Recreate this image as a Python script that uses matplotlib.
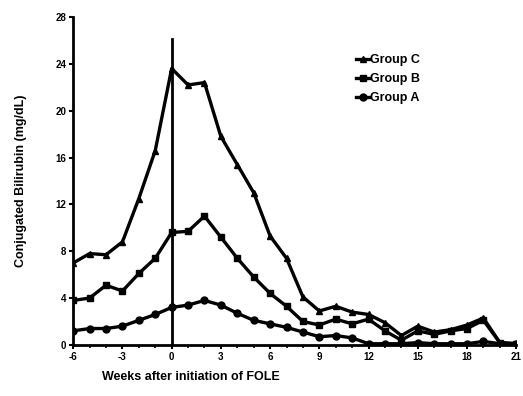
import numpy as np
import matplotlib
matplotlib.use("Agg")
import matplotlib.pyplot as plt
from matplotlib.ticker import MultipleLocator

plt.rcParams['font.family'] = ['Liberation Sans', 'DejaVu Sans']
plt.rcParams['font.weight'] = 'bold'
plt.rcParams['axes.unicode_minus'] = False

# weeks relative to start of FOLE
weeks = list(range(-6, 22))

group_c = [7.0, 7.8, 7.7, 8.8, 12.5, 16.6, 23.6, 22.2, 22.4, 17.8, 15.4, 13.0, 9.3, 7.4,
           4.1, 2.9, 3.3, 2.8, 2.6, 1.9, 0.8, 1.6, 1.1, 1.3, 1.7, 2.3, 0.2, 0.1]
group_b = [3.8, 4.0, 5.1, 4.6, 6.1, 7.4, 9.6, 9.7, 11.0, 9.2, 7.4, 5.8, 4.4, 3.3,
           2.0, 1.7, 2.2, 1.8, 2.2, 1.2, 0.4, 1.2, 0.9, 1.2, 1.4, 2.1, 0.2, 0.1]
group_a = [1.2, 1.4, 1.4, 1.6, 2.1, 2.6, 3.2, 3.4, 3.8, 3.4, 2.7, 2.1, 1.8, 1.5,
           1.1, 0.7, 0.8, 0.6, 0.1, 0.1, 0.1, 0.2, 0.1, 0.1, 0.1, 0.3, 0.1, 0.1]

fig = plt.figure(figsize=(5.23, 3.96), dpi=100)
ax = fig.add_axes([0.14, 0.129, 0.847, 0.828])

ax.plot(weeks, group_c, '-^', color='black', lw=2.4, ms=5, label='Group C')
ax.plot(weeks, group_b, '-s', color='black', lw=2.4, ms=5, label='Group B')
ax.plot(weeks, group_a, '-o', color='black', lw=2.4, ms=5, label='Group A')

# start of FOLE
ax.plot([0, 0], [0, 26.1], color='black', lw=2)

ax.set_xlim(-6, 21)
ax.set_ylim(0, 28)
ax.xaxis.set_major_locator(MultipleLocator(3))
ax.xaxis.set_minor_locator(MultipleLocator(1))
ax.yaxis.set_major_locator(MultipleLocator(4))
ax.tick_params(axis='both', labelsize=7, width=1.5, length=3, pad=2)
ax.tick_params(axis='x', which='minor', width=1.2, length=2)
for s in ['top', 'right']:
    ax.spines[s].set_visible(False)
for s in ['left', 'bottom']:
    ax.spines[s].set_linewidth(2)

ax.set_ylabel('Conjugated Bilirubin (mg/dL)', fontsize=9, fontweight='bold', labelpad=20)
fig.text(0.365, 0.04, 'Weeks after initiation of FOLE', fontsize=9, fontweight='bold', ha='center')

leg = ax.legend(loc='upper left', bbox_to_anchor=(0.625, 0.905), frameon=False,
                fontsize=9, handlelength=1.0, handletextpad=0.1, labelspacing=0.55,
                borderpad=0)

fig.savefig('out.png', dpi=100)
